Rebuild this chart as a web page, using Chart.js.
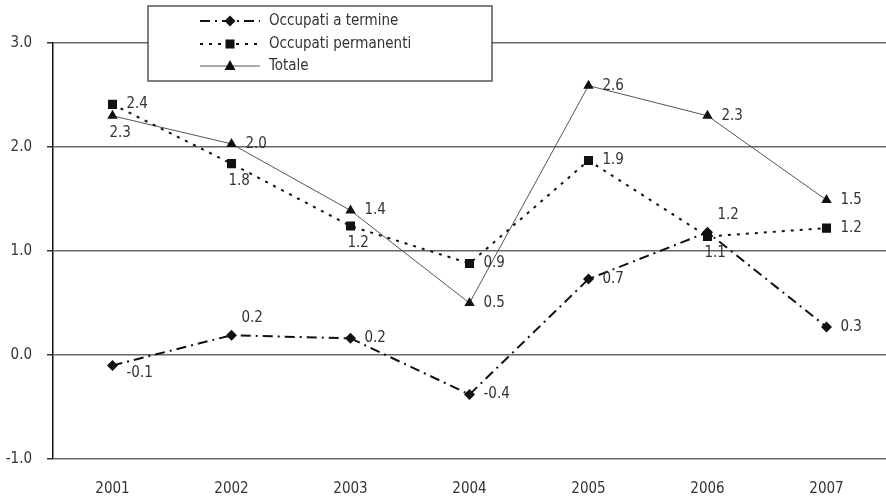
<!DOCTYPE html>
<html>
<head>
<meta charset="utf-8">
<script src="https://cdn.jsdelivr.net/npm/chart.js@4/dist/chart.umd.min.js"></script>
<style>
  html, body { margin: 0; padding: 0; background: #fff; }
  #wrap { width: 886px; height: 498px; }
</style>
</head>
<body>
<div id="wrap"><canvas id="occupati-chart"></canvas></div>
<script>
const years = ['2001', '2002', '2003', '2004', '2005', '2006', '2007'];
const yTicks = [-1, 0, 1, 2, 3];

const termine = [-0.10, 0.19, 0.16, -0.38, 0.73, 1.18, 0.27];
const permanenti = [2.41, 1.84, 1.24, 0.88, 1.87, 1.14, 1.22];
const totale = [2.30, 2.03, 1.39, 0.50, 2.59, 2.30, 1.49];

// where each value label sits next to its point
const termineLabelPos = ['rb', 'a', 'r', 'r', 'r', 'a', 'r'];
const permanentiLabelPos = ['r', 'b', 'b', 'r', 'r', 'b', 'r'];
const totaleLabelPos = ['b', 'r', 'r', 'r', 'r', 'r', 'r'];

const FONT = "'Liberation Sans Narrow', 'DejaVu Sans Condensed', 'Roboto', sans-serif";
const TEXT = '#333';

const labelOffsets = {
    r: [14, 0],
    rb: [14, 8],
    a: [10, -17],
    b: [-3, 17]
};

const valueLabels = {
    id: 'valueLabels',
    afterDatasetsDraw(chart) {
        const ctx = chart.ctx;
        ctx.save();
        ctx.font = '15px ' + FONT;
        ctx.fillStyle = TEXT;
        ctx.textAlign = 'left';
        ctx.textBaseline = 'middle';
        chart.data.datasets.forEach((ds, i) => {
            const meta = chart.getDatasetMeta(i);
            meta.data.forEach((pt, j) => {
                const off = labelOffsets[ds.labelPos[j]];
                ctx.fillText(ds.data[j].toFixed(1), pt.x + off[0], pt.y + off[1]);
            });
        });
        ctx.restore();
    }
};

function drawMarker(ctx, style, x, y) {
    ctx.beginPath();
    if (style === 'rectRot') {
        ctx.moveTo(x, y - 5.5);
        ctx.lineTo(x + 5.5, y);
        ctx.lineTo(x, y + 5.5);
        ctx.lineTo(x - 5.5, y);
    } else if (style === 'rect') {
        ctx.rect(x - 4.5, y - 4.5, 9, 9);
    } else {
        ctx.moveTo(x, y - 6);
        ctx.lineTo(x + 5.5, y + 4);
        ctx.lineTo(x - 5.5, y + 4);
    }
    ctx.closePath();
    ctx.fill();
}

const boxLegend = {
    id: 'boxLegend',
    afterDraw(chart) {
        const ctx = chart.ctx;
        ctx.save();
        ctx.fillStyle = '#fff';
        ctx.fillRect(148, 6, 344, 75);
        ctx.strokeStyle = '#555';
        ctx.lineWidth = 1.5;
        ctx.strokeRect(148, 6, 344, 75);

        const rows = [21, 44, 66];
        chart.data.datasets.forEach((ds, i) => {
            const y = rows[i];
            ctx.strokeStyle = ds.borderColor;
            ctx.lineWidth = ds.borderWidth;
            ctx.setLineDash(ds.borderDash || []);
            ctx.beginPath();
            ctx.moveTo(200, y);
            ctx.lineTo(260, y);
            ctx.stroke();
            ctx.setLineDash([]);
            ctx.fillStyle = '#111';
            drawMarker(ctx, ds.pointStyle, 230, y);
            ctx.font = '15px ' + FONT;
            ctx.fillStyle = TEXT;
            ctx.textAlign = 'left';
            ctx.textBaseline = 'middle';
            ctx.fillText(ds.label, 269, y);
        });
        ctx.restore();
    }
};

const ctx = document.getElementById('occupati-chart').getContext('2d');
new Chart(ctx, {
    type: 'line',
    data: {
        labels: years,
        datasets: [{
            label: 'Occupati a termine',
            data: termine,
            labelPos: termineLabelPos,
            borderColor: '#111',
            borderWidth: 2,
            borderDash: [10, 5, 2, 5],
            pointStyle: 'rectRot',
            pointRadius: 5.5,
            pointBackgroundColor: '#111',
            pointBorderColor: '#111',
            pointBorderWidth: 0,
            tension: 0
        }, {
            label: 'Occupati permanenti',
            data: permanenti,
            labelPos: permanentiLabelPos,
            borderColor: '#111',
            borderWidth: 2,
            borderDash: [3, 6],
            pointStyle: 'rect',
            pointRadius: 6.4,
            pointBackgroundColor: '#111',
            pointBorderColor: '#111',
            pointBorderWidth: 0,
            tension: 0
        }, {
            label: 'Totale',
            data: totale,
            labelPos: totaleLabelPos,
            borderColor: '#555',
            borderWidth: 1,
            pointStyle: 'triangle',
            pointRadius: 6,
            pointBackgroundColor: '#111',
            pointBorderColor: '#111',
            pointBorderWidth: 0,
            tension: 0
        }]
    },
    options: {
        responsive: true,
        maintainAspectRatio: false,
        animation: false,
        events: [],
        layout: {
            autoPadding: false,
            padding: { top: 43, right: 0, bottom: 0, left: 0 }
        },
        plugins: {
            legend: { display: false },
            tooltip: { enabled: false }
        },
        scales: {
            x: {
                offset: true,
                grid: { display: false },
                border: { display: false },
                ticks: {
                    color: TEXT,
                    font: { family: FONT, size: 15 },
                    padding: 13,
                    maxRotation: 0
                },
                afterFit(scale) { scale.height = 39; }
            },
            y: {
                min: -1,
                max: 3,
                afterBuildTicks(scale) {
                    scale.ticks = yTicks.map(v => ({ value: v }));
                },
                grid: {
                    color: '#666',
                    lineWidth: 1.5,
                    tickLength: 6,
                    tickColor: '#333'
                },
                border: { display: true, color: '#111', width: 1.5 },
                ticks: {
                    color: TEXT,
                    font: { family: FONT, size: 15 },
                    padding: 15,
                    callback: v => v.toFixed(1)
                },
                afterFit(scale) { scale.width = 53; }
            }
        }
    },
    plugins: [valueLabels, boxLegend]
});
</script>
</body>
</html>
